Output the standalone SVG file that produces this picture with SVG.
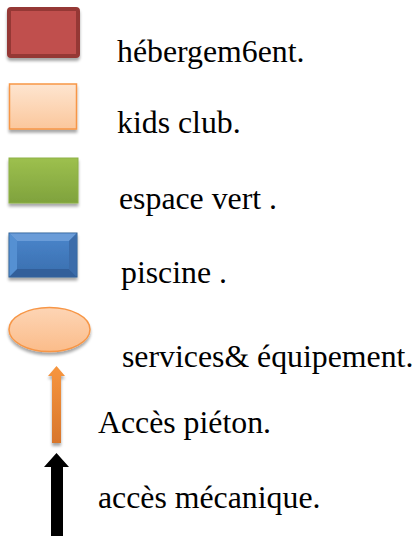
<svg xmlns="http://www.w3.org/2000/svg" width="416" height="536" viewBox="0 0 416 536">
<style>
text{font-family:"Liberation Serif","Times New Roman",serif;font-size:31.8px;fill:#000}
</style>
<defs>
<filter id="sh" x="-20%" y="-20%" width="140%" height="150%">
<feGaussianBlur in="SourceAlpha" stdDeviation="1.5"/>
<feOffset dy="3" result="b"/>
<feComponentTransfer><feFuncA type="linear" slope="0.35"/></feComponentTransfer>
<feMerge><feMergeNode/><feMergeNode in="SourceGraphic"/></feMerge>
</filter>
<linearGradient id="gOr" x1="0" y1="0" x2="0" y2="1"><stop offset="0" stop-color="#FEE5D0"/><stop offset="1" stop-color="#FBC79C"/></linearGradient>
<linearGradient id="gGr" x1="0" y1="0" x2="0" y2="1"><stop offset="0" stop-color="#9DC04E"/><stop offset="1" stop-color="#7FA23D"/></linearGradient>
<linearGradient id="gBl" x1="0" y1="0" x2="0" y2="1"><stop offset="0" stop-color="#4A86CC"/><stop offset="1" stop-color="#3A6EAE"/></linearGradient>
<linearGradient id="gEl" x1="0" y1="0" x2="0" y2="1"><stop offset="0" stop-color="#FDD5B5"/><stop offset="1" stop-color="#FBBC8A"/></linearGradient>
<linearGradient id="gAr" x1="0" y1="0" x2="0" y2="1"><stop offset="0" stop-color="#F7963F"/><stop offset="1" stop-color="#D8762C"/></linearGradient>
</defs>
<g id="hebergement">
<rect x="9" y="9" width="69" height="47" rx="2" fill="#C0504D" stroke="#953735" stroke-width="4" filter="url(#sh)"/>
<text x="117" y="62">hébergem6ent.</text>
</g>
<g id="kids-club">
<rect x="9.5" y="84" width="67" height="45" fill="url(#gOr)" stroke="#F79646" stroke-width="1.5" filter="url(#sh)"/>
<text x="117" y="133">kids club.</text>
</g>
<g id="espace-vert">
<rect x="9" y="158" width="69" height="45" fill="url(#gGr)" stroke="#8DB147" stroke-width="1" filter="url(#sh)"/>
<text x="119" y="209">espace vert .</text>
</g>
<g id="piscine">
<g filter="url(#sh)">
<rect x="9" y="233" width="68" height="44" fill="url(#gBl)" stroke="#2F5C91" stroke-width="1"/>
<polygon points="9.5,233.5 76.5,233.5 69,241 17,241" fill="#6A9CD8"/>
<polygon points="9.5,276.5 76.5,276.5 69,269 17,269" fill="#325F9A"/>
<polygon points="9.5,233.5 17,241 17,269 9.5,276.5" fill="#5590D2"/>
<polygon points="76.5,233.5 69,241 69,269 76.5,276.5" fill="#3A6CAA"/>
</g>
<text x="121" y="283">piscine .</text>
</g>
<g id="services">
<ellipse cx="49.5" cy="329.5" rx="40.5" ry="22" fill="url(#gEl)" stroke="#F79646" stroke-width="1.5" filter="url(#sh)"/>
<text x="122" y="367">services&amp; équipement.</text>
</g>
<g id="acces-pieton">
<polygon points="56.5,366 65,376 61,376 61,443 52,443 52,376 48,376" fill="url(#gAr)" filter="url(#sh)"/>
<text x="98" y="433">Accès piéton.</text>
</g>
<g id="acces-mecanique">
<polygon points="56.5,453 69,467 63,467 63,536 51,536 51,467 44,467" fill="#000"/>
<text x="98" y="508">accès mécanique.</text>
</g>
<g id="connectors"/>
</svg>
